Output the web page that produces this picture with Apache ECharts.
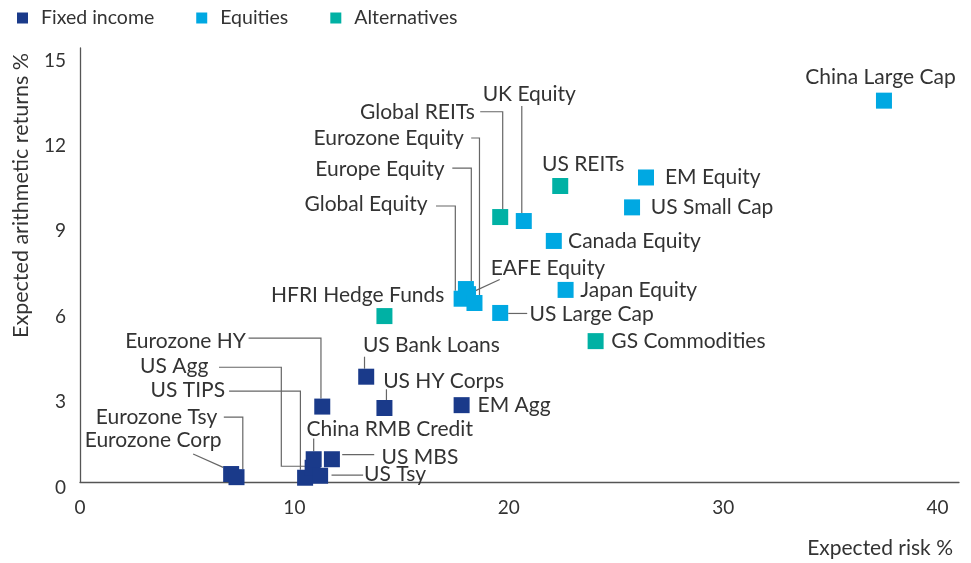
<!DOCTYPE html>
<html><head><meta charset="utf-8">
<script src="https://cdn.jsdelivr.net/npm/echarts/dist/echarts.min.js"></script>
<style>html,body{margin:0;padding:0;background:#fff}#c{width:971px;height:563px}</style>
</head><body><div id="c"></div>
<script>
// ---- data ----
const fixedNames  = ['Eurozone Corp','Eurozone Tsy','US TIPS','US Agg','China RMB Credit','US MBS','US Tsy','Eurozone HY','US Bank Loans','US HY Corps','EM Agg'];
const fixedRisk   = [7.05, 7.3, 10.5, 10.85, 10.9, 11.75, 11.2, 11.3, 13.35, 14.2, 17.8];
const fixedReturn = [0.28, 0.17, 0.15, 0.5, 0.8, 0.8, 0.22, 2.65, 3.7, 2.6, 2.7];

const eqNames  = ['EAFE Equity','Europe Equity','Global Equity','Eurozone Equity','US Large Cap','UK Equity','Canada Equity','Japan Equity','US Small Cap','EM Equity','China Large Cap'];
const eqRisk   = [18.1, 18.0, 17.8, 18.4, 19.6, 20.7, 22.1, 22.65, 25.75, 26.4, 37.5];
const eqReturn = [6.6, 6.78, 6.44, 6.29, 5.94, 9.17, 8.47, 6.75, 9.65, 10.7, 13.4];

const altNames  = ['HFRI Hedge Funds','Global REITs','US REITs','GS Commodities'];
const altRisk   = [14.2, 19.6, 22.4, 24.05];
const altReturn = [5.83, 9.31, 10.4, 4.95];

const seriesNames = ['Fixed income','Equities','Alternatives'];
const xTicks = [0, 10, 20, 30, 40];
const yTicks = [0, 3, 6, 9, 12, 15];

// ---- label layout (pixel offsets from each marker) ----
const labelLayout = {
  'China Large Cap': {dx:-3.5, dy:-23, align:'center'},
  'UK Equity': {dx:5.5, dy:-127, align:'center', line:[[-2,-115],[-2,-8]]},
  'Global REITs': {dx:-25.3, dy:-105.3, align:'right', line:[[-20,-105.3],[2.5,-105.3],[2.5,-8]]},
  'Eurozone Equity': {dx:-10.7, dy:-164.7, align:'right', line:[[-3.3,-165],[5,-165],[5,-8]]},
  'Europe Equity': {dx:-21.3, dy:-119.7, align:'right', line:[[-13.6,-121],[5.4,-121],[5.4,-8]]},
  'Global Equity': {dx:-34, dy:-94.7, align:'right', line:[[-25.6,-92.7],[-6.3,-92.7],[-6.3,-8]]},
  'EAFE Equity': {dx:22.7, dy:-26.3, align:'left', line:[[31.7,-14.7],[2.7,-1.3]]},
  'HFRI Hedge Funds': {dx:60, dy:-21, align:'right'},
  'US REITs': {dx:-18.3, dy:-22, align:'left'},
  'EM Equity': {dx:19, dy:0, align:'left'},
  'US Small Cap': {dx:18.7, dy:0, align:'left'},
  'Canada Equity': {dx:14.3, dy:0.5, align:'left'},
  'Japan Equity': {dx:14.7, dy:0.7, align:'left'},
  'US Large Cap': {dx:29.3, dy:1, align:'left', line:[[8,0.5],[27,0.5]]},
  'GS Commodities': {dx:15.7, dy:0, align:'left'},
  'Eurozone HY': {dx:-76.3, dy:-65, align:'right', line:[[-73.7,-68.4],[-1.3,-68.4],[-1.3,-8]]},
  'US Agg': {dx:-104.3, dy:-101.8, align:'right', line:[[-93.6,-100.5],[-31.3,-100.5],[-31.3,-1.5],[-4,-1.5]]},
  'US TIPS': {dx:-80, dy:-87.7, align:'right', line:[[-76,-86.7],[-4.7,-86.7],[-4.7,-8]]},
  'Eurozone Tsy': {dx:-19.3, dy:-60, align:'right', line:[[-12.7,-60],[6.3,-60],[6.3,-8]]},
  'Eurozone Corp': {dx:-9.6, dy:-34, align:'right', line:[[-38,-20],[-8,-6.7]]},
  'US Bank Loans': {dx:-3.3, dy:-31.7, align:'left', line:[[-1.7,-20],[-1.7,-8]]},
  'US HY Corps': {dx:-1.3, dy:-27, align:'left', line:[[2,-18.7],[2,-8]]},
  'EM Agg': {dx:16, dy:0.3, align:'left'},
  'China RMB Credit': {dx:-7.3, dy:-30, align:'left', line:[[0,-20.7],[0,-8]]},
  'US MBS': {dx:49.7, dy:-1.7, align:'left', line:[[10.3,-4.7],[42.3,-4.7]]},
  'US Tsy': {dx:44, dy:-1.4, align:'left', line:[[11.4,-0.7],[43,-0.7]]}
};

const colors = ['#1a3a8a', '#00a8e2', '#00b1a4'];
const FONT = 'Lato, "Open Sans", sans-serif';
const TEXT = '#333333';

const allPoints = [];
function collect(names, xs, ys) { names.forEach((n, i) => allPoints.push({name:n, x:xs[i], y:ys[i]})); }
collect(fixedNames, fixedRisk, fixedReturn);
collect(eqNames, eqRisk, eqReturn);
collect(altNames, altRisk, altReturn);

const chart = echarts.init(document.getElementById('c'), null, {renderer:'canvas'});

function scatterSeries(name, xs, ys, color) {
  return {
    name, type:'scatter', symbol:'rect', symbolSize:16, z:3,
    itemStyle:{color, opacity:1},
    data: xs.map((x, i) => [x, ys[i]])
  };
}

chart.setOption({
  animation:false,
  textStyle:{fontFamily:FONT},
  legend:{
    data:seriesNames, left:12, top:3, icon:'rect', itemWidth:11, itemHeight:11, itemGap:42,
    itemStyle:{opacity:1},
    textStyle:{fontFamily:FONT, fontSize:19.5, color:TEXT, padding:[0,0,0,8]}
  },
  grid:{left:80, right:12, top:48, bottom:81, containLabel:false, outerBoundsMode:'none'},
  xAxis:{
    type:'value', min:0, max:41, interval:10,
    axisLine:{lineStyle:{color:'#555', width:1.3}}, axisTick:{show:false}, splitLine:{show:false},
    axisLabel:{color:TEXT, fontFamily:FONT, fontSize:19, margin:16,
      formatter: v => xTicks.includes(v) ? String(v) : ''},
    name:'Expected risk %', nameLocation:'end', nameGap:-6, nameMoveOverlap:false,
    nameTextStyle:{color:TEXT, fontFamily:FONT, fontSize:21, align:'right', verticalAlign:'top', padding:[56,0,0,0]}
  },
  yAxis:{
    type:'value', min:0, max:15.25, interval:3,
    axisLine:{show:true, lineStyle:{color:'#555', width:1.3}}, axisTick:{show:false}, splitLine:{show:false},
    axisLabel:{color:TEXT, fontFamily:FONT, fontSize:19, margin:14, verticalAlign:'top', lineHeight:11,
      formatter: v => yTicks.includes(v) ? String(v) : ''},
    name:'Expected arithmetic returns %', nameLocation:'end', nameRotate:90, nameGap:-5, nameMoveOverlap:false,
    nameTextStyle:{color:TEXT, fontFamily:FONT, fontSize:21.5, align:'right', verticalAlign:'bottom', padding:[0,0,48,0]}
  },
  series:[
    scatterSeries(seriesNames[0], fixedRisk, fixedReturn, colors[0]),
    scatterSeries(seriesNames[1], eqRisk, eqReturn, colors[1]),
    scatterSeries(seriesNames[2], altRisk, altReturn, colors[2]),
    {
      type:'custom', name:'labels', coordinateSystem:'cartesian2d', silent:true, clip:false, z:1,
      encode:{x:0, y:1},
      data: allPoints.map((d, i) => [d.x, d.y, i]),
      renderItem(params, api) {
        const item = allPoints[api.value(2)];
        const p = api.coord([api.value(0), api.value(1)]);
        const L = labelLayout[item.name] || {dx:12, dy:0, align:'left'};
        const children = [];
        if (L.line) {
          children.push({type:'polyline', shape:{points:L.line.map(o => [p[0]+o[0], p[1]+o[1]])},
            style:{stroke:'#666', lineWidth:1.2, fill:null}});
        }
        children.push({type:'text', style:{text:item.name, x:p[0]+L.dx, y:p[1]+L.dy,
          align:L.align, verticalAlign:'middle', fill:TEXT, font:'21px ' + FONT}});
        return {type:'group', children};
      }
    }
  ]
});
</script></body></html>
